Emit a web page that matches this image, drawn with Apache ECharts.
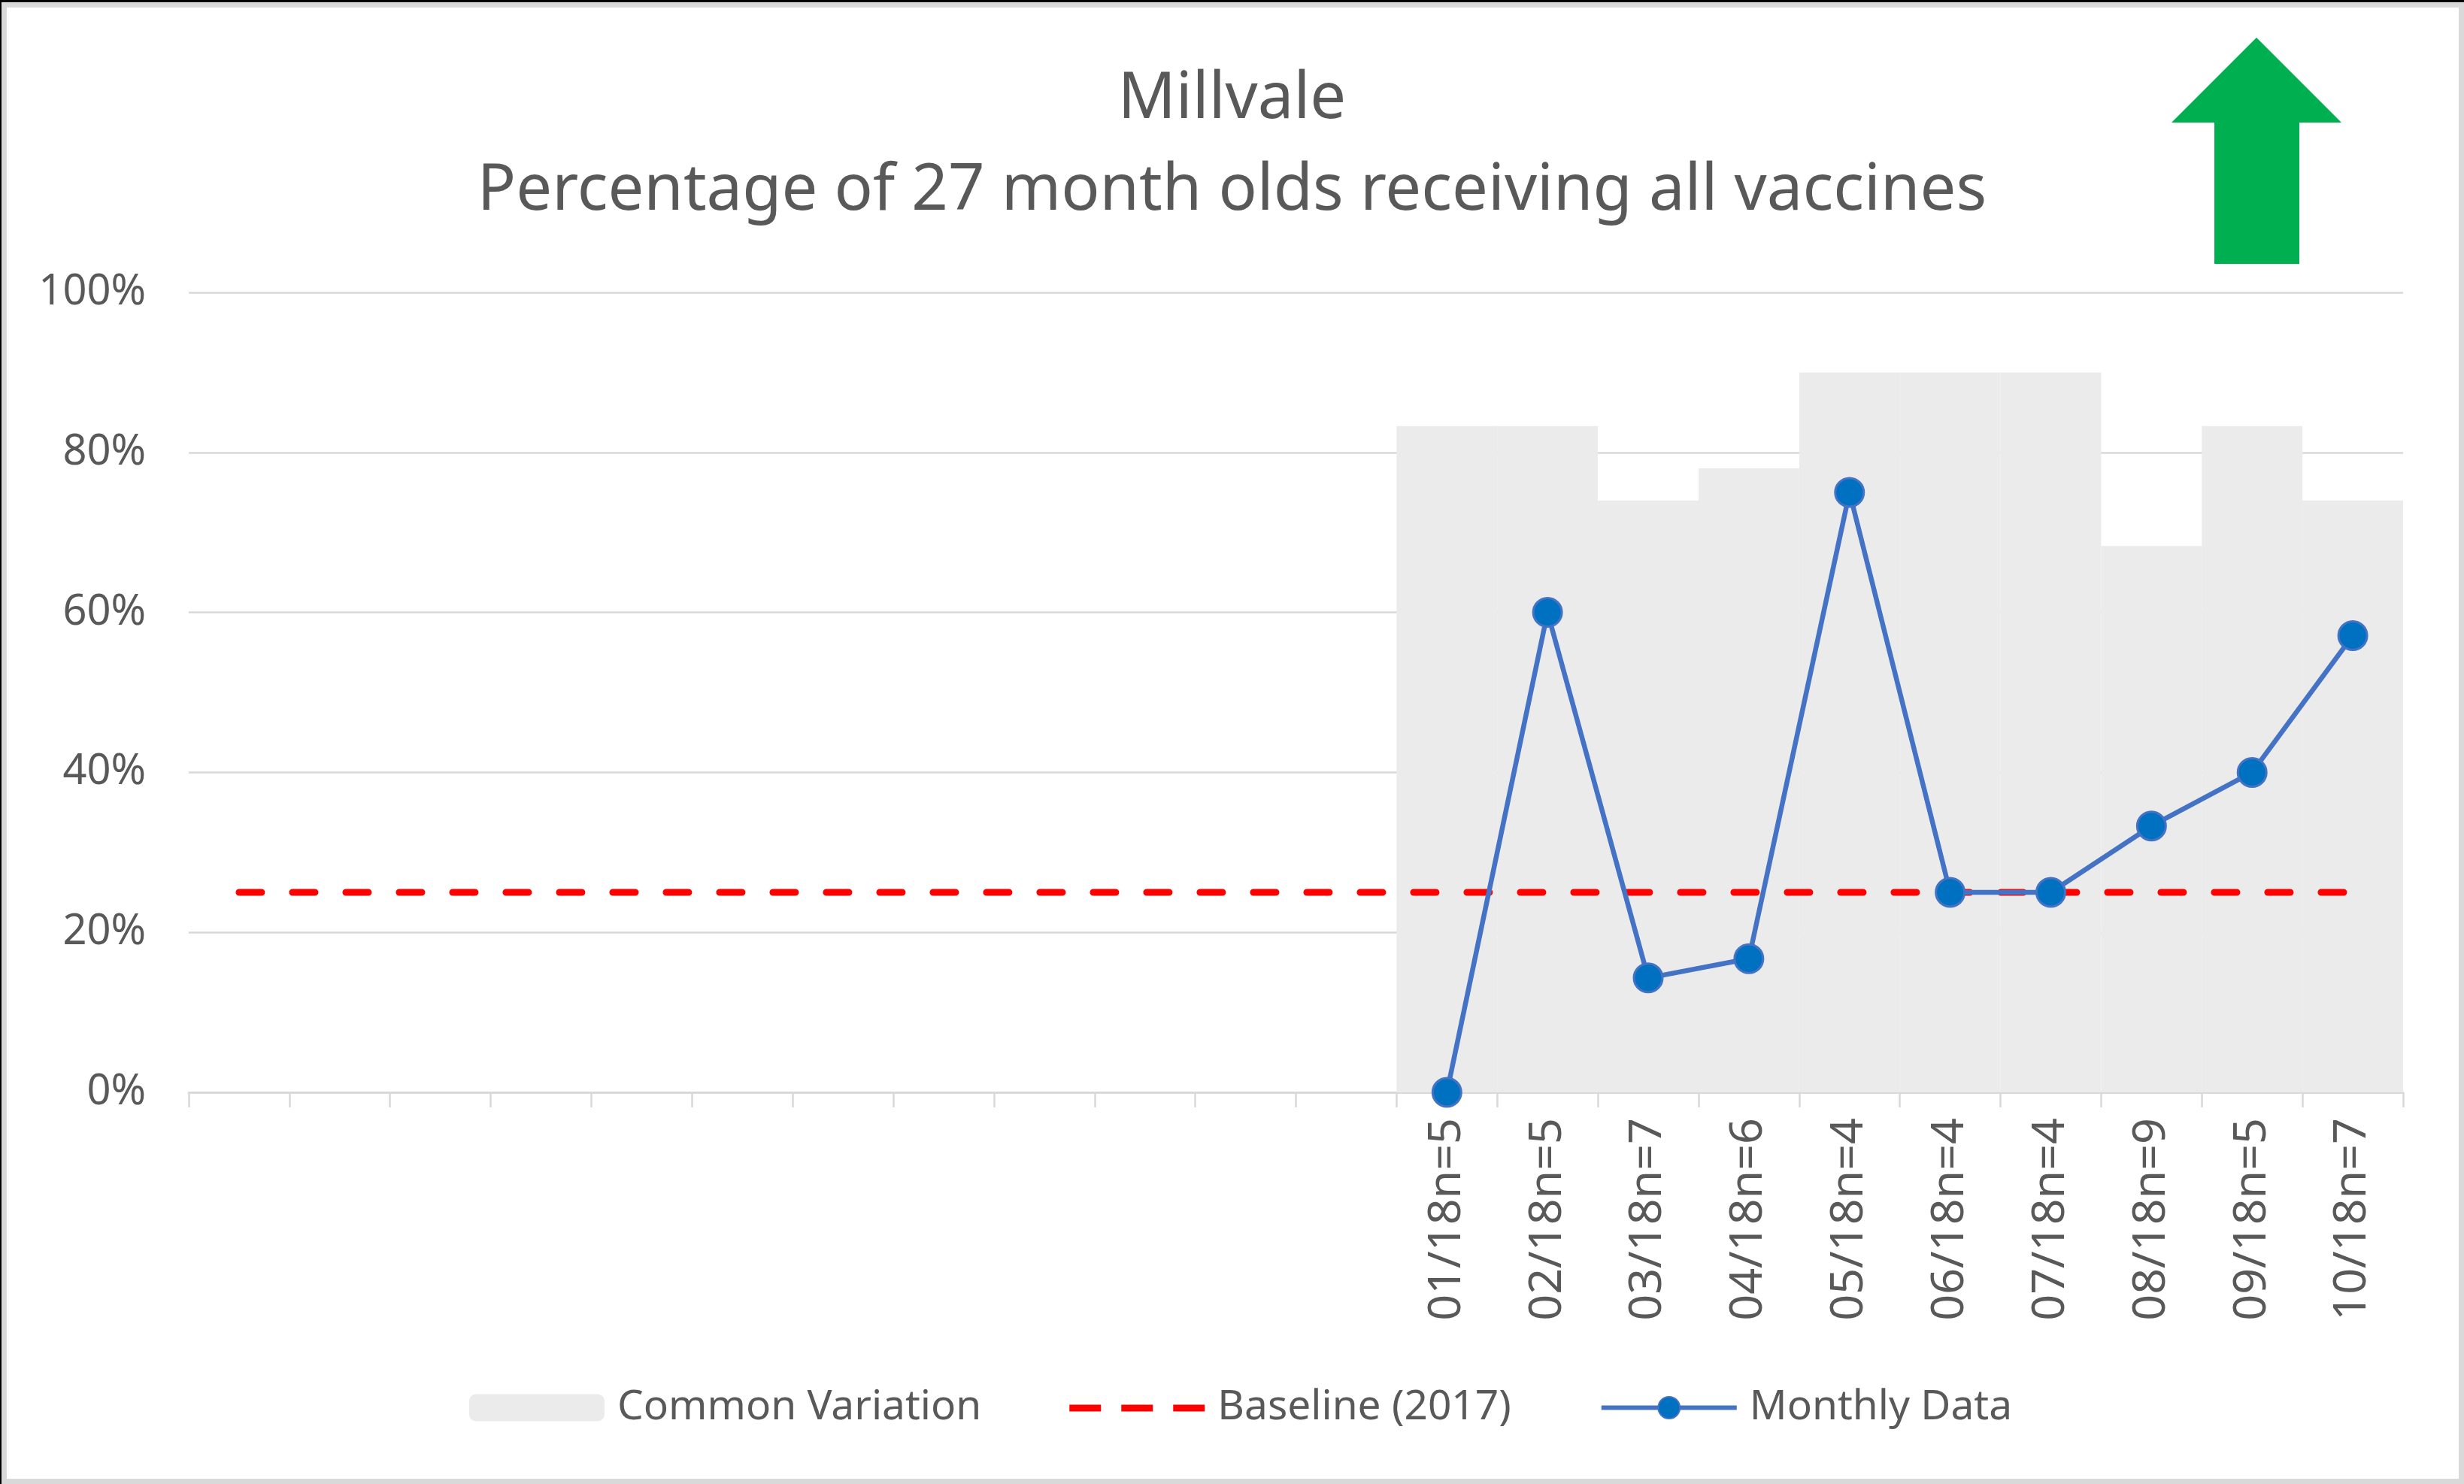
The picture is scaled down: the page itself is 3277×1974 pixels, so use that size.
<!DOCTYPE html>
<html>
<head>
<meta charset="utf-8">
<script src="https://cdn.jsdelivr.net/npm/echarts@6/dist/echarts.min.js"></script>
<style>
  html, body { margin: 0; padding: 0; background: #fff; }
  #chart { position: absolute; left: 0; top: 0; width: 3277px; height: 1974px; }
  #frame {
    position: absolute; left: 0; top: 0; width: 3277px; height: 1974px;
    box-sizing: border-box; pointer-events: none;
    border-top: 3px solid #000; border-left: 2px solid #000;
  }
  #frame div {
    width: 100%; height: 100%; box-sizing: border-box;
    border: 7px solid #d9d9d9;
  }
</style>
</head>
<body>
<div id="chart"></div>
<div id="frame"><div></div></div>
<script>
// categories: first 12 slots are empty (2017 baseline period)
const categories = ['', '', '', '', '', '', '', '', '', '', '', '',
  '01/18n=5', '02/18n=5', '03/18n=7', '04/18n=6', '05/18n=4',
  '06/18n=4', '07/18n=4', '08/18n=9', '09/18n=5', '10/18n=7'];
const commonVariation = [null, null, null, null, null, null, null, null, null, null, null, null,
  83.3, 83.3, 74, 78, 90, 90, 90, 68.3, 83.3, 74];
const baseline = [25, 25, 25, 25, 25, 25, 25, 25, 25, 25, 25,
  25, 25, 25, 25, 25, 25, 25, 25, 25, 25, 25];
const monthlyData = [null, null, null, null, null, null, null, null, null, null, null, null,
  0, 60, 14.3, 16.7, 75, 25, 25, 33.3, 40, 57.1];
const yTicks = [0, 20, 40, 60, 80, 100];

const FONT = 'Noto Sans';
const TXT = '#595959';

// three short red dashes for the baseline legend icon (tiny corner dots keep the box 180x36)
const dashIcon = 'path://M0,0h0.1v0.1h-0.1z M0,14h42v9h-42z M69,14h42v9h-42z M138,14h42v9h-42z M179.9,35.9h0.1v0.1h-0.1z';

const chart = echarts.init(document.getElementById('chart'));

const option = {
  backgroundColor: '#fff',
  animation: false,
  textStyle: { fontFamily: FONT },
  title: {
    text: 'Millvale\nPercentage of 27 month olds receiving all vaccines',
    left: 'center',
    top: 72,
    padding: 0,
    textStyle: {
      color: TXT,
      fontFamily: FONT,
      fontWeight: 'normal',
      fontSize: 85,
      lineHeight: 122
    }
  },
  legend: {
    left: 619,
    top: 1840,
    itemWidth: 180,
    itemHeight: 36,
    itemGap: 117,
    lineStyle: { width: 6 },
    textStyle: { color: TXT, fontSize: 55, fontFamily: FONT, padding: [0, 0, 0, 12] },
    data: [
      { name: 'Common Variation' },
      { name: 'Baseline (2017)', icon: dashIcon, itemStyle: { color: '#ff0000' } },
      { name: 'Monthly Data' }
    ]
  },
  grid: {
    left: 251,
    right: 81,
    top: 389,
    bottom: 521,
    containLabel: false
  },
  xAxis: {
    type: 'category',
    data: categories,
    boundaryGap: true,
    axisLine: { lineStyle: { color: '#d9d9d9', width: 3 } },
    axisTick: { show: true, alignWithLabel: false, length: 20, lineStyle: { color: '#d9d9d9', width: 2.5 } },
    axisLabel: {
      interval: 0,
      rotate: 90,
      margin: 34,
      color: TXT,
      fontSize: 61,
      fontFamily: FONT
    },
    splitLine: { show: false }
  },
  yAxis: {
    type: 'value',
    min: yTicks[0],
    max: yTicks[yTicks.length - 1],
    interval: 20,
    axisLine: { show: false },
    axisTick: { show: false },
    axisLabel: {
      formatter: '{value}%',
      margin: 57,
      color: TXT,
      fontSize: 56,
      fontFamily: FONT
    },
    splitLine: { lineStyle: { color: '#d9d9d9', width: 2.5 } }
  },
  series: [
    {
      name: 'Common Variation',
      type: 'bar',
      data: commonVariation,
      barWidth: '100%',
      barCategoryGap: 0,
      itemStyle: { color: '#ebebeb' },
      z: 1
    },
    {
      name: 'Baseline (2017)',
      type: 'line',
      data: baseline,
      symbol: 'none',
      showSymbol: false,
      lineStyle: { color: '#ff0000', width: 9, type: [30, 41], cap: 'round' },
      itemStyle: { color: '#ff0000' },
      z: 3
    },
    {
      name: 'Monthly Data',
      type: 'line',
      data: monthlyData,
      symbol: 'circle',
      symbolSize: 38,
      lineStyle: { color: '#4472c4', width: 6.5 },
      itemStyle: { color: '#0070c0', borderColor: '#4472c4', borderWidth: 3 },
      z: 4
    }
  ],
  graphic: [
    {
      type: 'polygon',
      shape: {
        points: [[2888, 163], [3001, 50], [3114, 163], [3058, 163], [3058, 351], [2945, 351], [2945, 163]]
      },
      style: { fill: '#00b050' },
      z: 10
    }
  ]
};

chart.setOption(option);
</script>
</body>
</html>
